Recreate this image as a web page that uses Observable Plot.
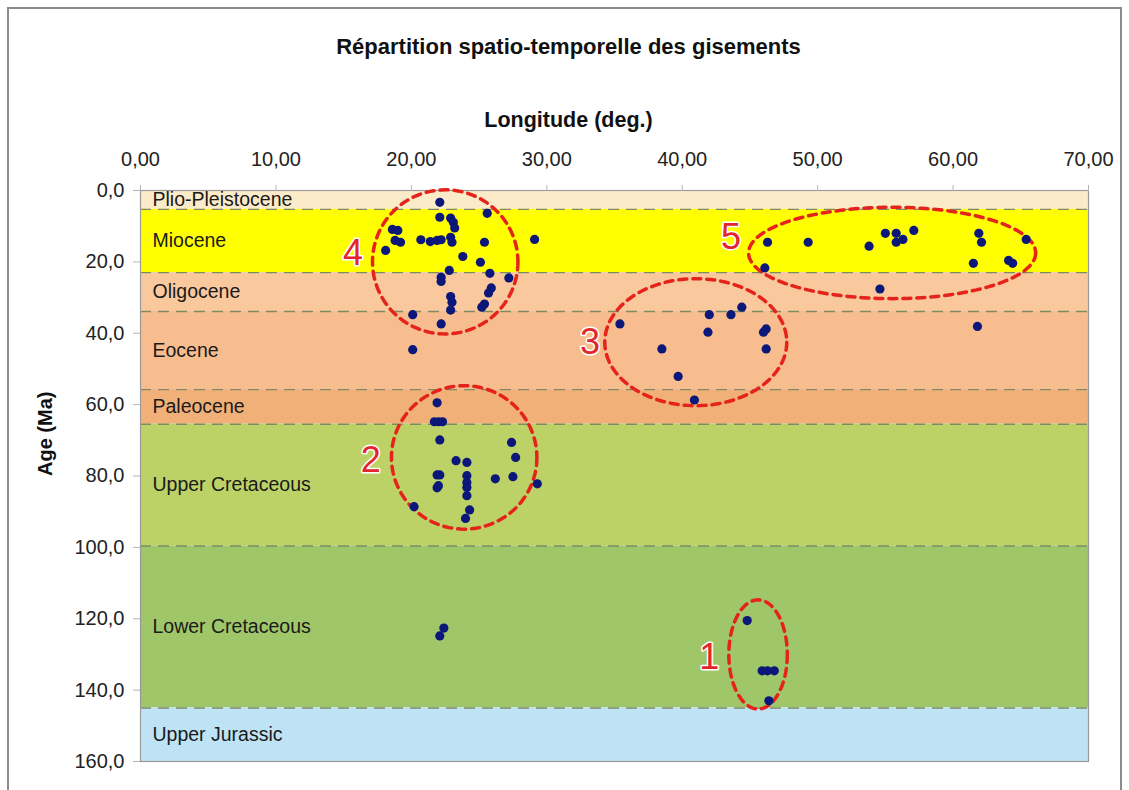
<!DOCTYPE html>
<html>
<head>
<meta charset="utf-8">
<script src="https://cdn.jsdelivr.net/npm/d3@7"></script>
<script src="https://cdn.jsdelivr.net/npm/@observablehq/plot@0.6"></script>
<style>
  body { margin: 0; background: #fff; font-family: "Liberation Sans", Arial, sans-serif; }
  #wrap { position: relative; width: 1129px; height: 790px; overflow: hidden; background: #fff; }
  #border { position: absolute; left: 7px; top: 7px; width: 1115px; height: 820px; border: 2px solid #8c8c8c; box-sizing: border-box; }
  .t { position: absolute; left: 0; width: 1129px; text-align: center; font-weight: bold; color: #111; }
  #chart { position: absolute; left: 0; top: 0; }
</style>
</head>
<body>
<div id="wrap">
  <div id="border"></div>
  <div class="t" style="top:34px;font-size:22px;left:4px;">Répartition spatio-temporelle des gisements</div>
  <div class="t" style="top:108px;font-size:21.5px;left:4px;">Longitude (deg.)</div>
  <div id="chart"></div>
</div>
<script>
// ---- Data ----
const bandNames  = ["Plio-Pleistocene", "Miocene", "Oligocene", "Eocene", "Paleocene", "Upper Cretaceous", "Lower Cretaceous", "Upper Jurassic"];
const bandStart  = [0, 5.3, 23.0, 33.9, 55.8, 65.5, 99.6, 145.0];
const bandEnd    = [5.3, 23.0, 33.9, 55.8, 65.5, 99.6, 145.0, 160.0];
const bandColors = ["#fcebc8", "#ffff00", "#f9c89c", "#f7bd8e", "#f2b079", "#bcd266", "#a0c66a", "#bde3f5"];

const longitude = [
  22.1, 22.1, 22.9, 23.1, 23.2, 25.6, 18.6, 19.0, 18.8, 19.2, 18.1, 20.7, 21.4, 21.9, 22.2, 22.9, 23.0, 25.4, 29.1,
  23.8, 25.1, 22.8, 25.8, 27.2, 22.2, 22.2, 25.9, 25.7, 22.9, 23.0, 22.9, 25.2, 25.4, 20.1, 22.2, 20.1,
  21.9, 21.7, 22.0, 22.3, 22.1, 27.4, 27.7, 23.3, 24.1, 21.9, 22.1, 24.1, 24.1, 27.5, 26.2, 29.3, 24.1, 21.9, 22.0,
  24.1, 20.2, 24.3, 24.0,
  22.4, 22.1,
  44.8, 45.9, 46.3, 46.8, 46.4,
  35.4, 42.0, 43.6, 44.4, 41.9, 38.5, 39.7, 40.9, 46.2, 46.0, 46.2,
  46.3, 49.3, 53.8, 55.0, 55.8, 55.8, 56.3, 57.1, 61.9, 62.1, 65.4, 61.5, 64.1, 64.4, 46.1, 54.6, 61.8
];
const age = [
  3.3, 7.5, 7.7, 8.9, 10.5, 6.4, 10.9, 11.2, 14.0, 14.5, 16.8, 13.8, 14.3, 14.0, 13.8, 13.1, 14.5, 14.5, 13.7,
  18.5, 20.1, 22.4, 23.2, 24.5, 24.3, 25.5, 27.3, 28.7, 29.7, 31.3, 33.5, 32.7, 31.8, 34.8, 37.4, 44.6,
  59.5, 64.8, 64.8, 64.8, 69.9, 70.6, 74.8, 75.7, 76.2, 79.7, 79.7, 79.9, 81.8, 80.2, 80.8, 82.2, 83.2, 83.3, 82.7,
  85.5, 88.6, 89.5, 91.9,
  122.6, 124.8,
  120.5, 134.6, 134.6, 134.6, 143.0,
  37.4, 34.8, 34.8, 32.7, 39.7, 44.4, 52.1, 58.7, 38.8, 39.7, 44.4,
  14.5, 14.5, 15.6, 12.0, 12.0, 14.5, 13.7, 11.2, 12.0, 14.5, 13.7, 20.4, 19.6, 20.4, 21.7, 27.6, 38.1
];

const xTicks = [0, 10, 20, 30, 40, 50, 60, 70];
const yTicks = [0, 20, 40, 60, 80, 100, 120, 140, 160];

// Annotation groups (dashed ellipses)
const groupLabels = ["1", "2", "3", "4", "5"];
const groupCx     = [45.6, 23.9, 41.0, 22.5, 55.5];
const groupCy     = [130.0, 74.8, 42.5, 20.0, 17.5];
const groupRx     = [2.16, 5.37, 6.72, 5.37, 10.6];
const groupRy     = [15.3, 20.1, 17.8, 20.2, 12.8];
const labelX      = [42.0, 17.0, 33.2, 15.7, 43.6];
const labelY      = [130.9, 75.7, 42.6, 17.6, 13.2];

// ---- Tables built from arrays ----
const bands = bandNames.map((n, i) => ({name: n, y1: bandStart[i], y2: bandEnd[i], color: bandColors[i], mid: (bandStart[i] + bandEnd[i]) / 2}));
const boundaries = bandStart.slice(1);
const points = longitude.map((x, i) => ({x, y: age[i]}));
const ellipsePts = [];
groupLabels.forEach((g, i) => {
  for (let k = 0; k <= 120; k++) {
    const t = (k / 120) * 2 * Math.PI;
    ellipsePts.push({id: g, x: groupCx[i] + groupRx[i] * Math.cos(t), y: groupCy[i] + groupRy[i] * Math.sin(t)});
  }
});
const labels = groupLabels.map((g, i) => ({g, x: labelX[i], y: labelY[i]}));

const fmtX = d => d.toFixed(2).replace(".", ",");
const fmtY = d => d.toFixed(1).replace(".", ",");

const chart = Plot.plot({
  width: 1129,
  height: 790,
  marginTop: 190,
  marginLeft: 140,
  marginRight: 41,
  marginBottom: 29,
  style: {fontFamily: "'Liberation Sans', Arial, sans-serif", fontSize: "20px", background: "transparent", color: "#222"},
  x: {domain: [0, 70]},
  y: {domain: [0, 160], reverse: true},
  marks: [
    Plot.rect(bands, {x1: () => 0, x2: () => 70, y1: "y1", y2: "y2", fill: "color"}),
    Plot.ruleY(boundaries, {stroke: "#7f8a62", strokeWidth: 1.4, strokeDasharray: "11,7"}),
    Plot.frame({stroke: "#9a9a9a", strokeWidth: 1.2}),
    Plot.axisX({anchor: "top", ticks: xTicks, tickFormat: fmtX, tickSize: 6, tickPadding: 19, stroke: "#b5b5b5", fill: "#222", fontSize: 20, label: null}),
    Plot.axisY({anchor: "left", ticks: yTicks, tickFormat: fmtY, tickSize: 7, tickPadding: 9, stroke: "#b5b5b5", fill: "#222", fontSize: 20, label: null}),
    Plot.text(bands, {x: () => 0, y: "mid", text: "name", dx: 12, textAnchor: "start", fontSize: 19.5, fill: "#1a1a1a"}),
    Plot.line(ellipsePts, {x: "x", y: "y", z: "id", stroke: "#e5231b", strokeWidth: 3.5, strokeDasharray: "8,6"}),
    Plot.dot(points, {x: "x", y: "y", r: 4.6, fill: "#0c177a", stroke: "none"}),
    Plot.text(labels, {x: "x", y: "y", text: "g", fontSize: 36, fill: "#e3262b", stroke: "white", strokeWidth: 3, paintOrder: "stroke"}),
    Plot.text(["Age (Ma)"], {frameAnchor: "left", dx: -95, rotate: -90, fontWeight: "bold", fontSize: 20, fill: "#111"})
  ]
});
document.getElementById("chart").appendChild(chart);
</script>
</body>
</html>
